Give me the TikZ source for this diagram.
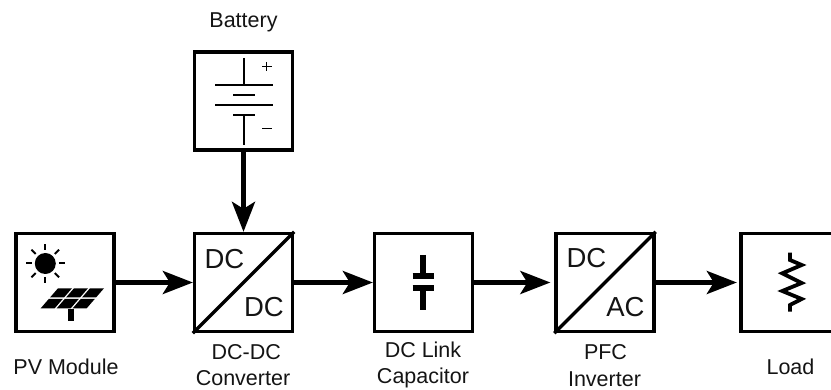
\documentclass[tikz,border=0pt]{standalone}
\usepackage{fontspec}
\setmainfont{Liberation Sans}
\usetikzlibrary{arrows.meta,calc}
\tikzset{
  blockbox/.style={draw=black,line width=3.3pt,minimum width=98pt,minimum height=98pt,inner sep=0pt,anchor=center},
  flow/.style={line width=4.5pt,-{Stealth[length=30pt,width=23pt,inset=7pt,black]}},
  captext/.style={font=\fontsize{21.5}{27}\selectfont,anchor=base,inner sep=0pt,text=black!92},
  dclabel/.style={font=\fontsize{27.5}{30}\selectfont,inner sep=0pt,text=black!92},
  thinsym/.style={line width=1.9pt},
  thicksym/.style={line width=6pt}
}
\begin{document}
\begin{tikzpicture}[x=1pt,y=-1pt]
\useasboundingbox (0,0) rectangle (831,390);
\begin{scope}
\clip (0,0) rectangle (831,390);
\node[blockbox] (pv) at (65,282.5) {};
\node[blockbox] (bat) at (243.5,101) {};
\node[blockbox] (dcdc) at (243.5,282.5) {};
\node[blockbox] (link) at (423.5,282.5) {};
\node[blockbox] (inv) at (605,282.5) {};
\node[blockbox] (load) at (790,282.5) {};
\end{scope}
% converters
\draw[line width=3.3pt] (dcdc.south west) -- (dcdc.north east);
\draw[line width=3.3pt] (inv.south west) -- (inv.north east);
\node[dclabel] (dc1) at (224.5,259) {DC};
\node[dclabel] (dc2) at (264,307.5) {DC};
\node[dclabel] (dc3) at (586.5,258.5) {DC};
\node[dclabel] (ac) at (625.5,307.5) {AC};
% arrows
\draw[flow] (pv) -- (dcdc);
\draw[flow] (bat) -- (dcdc);
\draw[flow] (dcdc) -- (link);
\draw[flow,shorten >=4pt] (link) -- (inv);
\draw[flow,shorten >=2.5pt] (inv) -- (load);
% labels
\node[captext] (l1) at (66,374) {PV Module};
\node[captext] (l2) at (243.5,27.3) {Battery};
\node[captext] (l3a) at (246.3,359.3) {DC-DC};
\node[captext] (l3b) at (243,386) {Converter};
\node[captext] (l4a) at (423,358) {DC Link};
\node[captext] (l4b) at (423,384) {Capacitor};
\node[captext] (l5a) at (605.5,359.3) {PFC};
\node[captext] (l5b) at (604.5,386.5) {Inverter};
\node[captext] (l6) at (790.5,374) {Load};
% battery symbol
\draw[thinsym] (244,58) -- (244,84.7);
\draw[thinsym] (215,84.7) -- (272.7,84.7);
\draw[thinsym] (233.3,95) -- (255,95);
\draw[thinsym] (215,105.3) -- (272.7,105.3);
\draw[thinsym] (233.3,115.3) -- (255,115.3);
\draw[thinsym] (244,115.3) -- (244,145);
\draw[line width=1.4pt] (262,66.7) -- (271.5,66.7) (266.7,62) -- (266.7,71.5);
\draw[line width=1.4pt] (262,128.3) -- (271.5,128.3);
% capacitor symbol
\draw[thicksym] (423,255) -- (423,276.5) (412.7,276.5) -- (434,276.5);
\draw[thicksym] (412.7,288) -- (434,288) (423,288) -- (423,310);
% resistor
\draw[line width=3.8pt,line join=miter] (790,252.7) -- (790,260) -- (801.7,265) -- (782.3,273.3) -- (801.7,283) -- (782.3,291) -- (801.7,299) -- (790,305) -- (790,311.7);
% sun
\fill (45.3,263.5) circle (10.5pt);
\foreach \a in {0,45,...,315}{
  \draw[line width=2pt] ($(45.3,263.5)+(\a:13.5)$) -- ($(45.3,263.5)+(\a:19.5)$);
}
% panel
\fill (67.7,309) rectangle (74,320.7);
\foreach \i in {0,1,2}{
  \fill ({58+\i*16},288.3) -- ++(14,0) -- ++(-8,9.2) -- ++(-14,0) -- cycle;
  \fill ({48.9+\i*16},298.8) -- ++(14,0) -- ++(-8.2,9.5) -- ++(-14,0) -- cycle;
}
\end{tikzpicture}
\end{document}
